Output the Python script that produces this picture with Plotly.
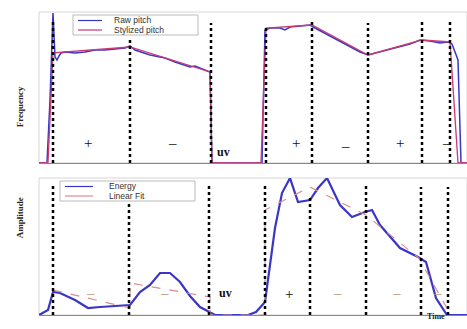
import plotly.graph_objects as go

# ---------------- data (time in frames, frequency in Hz-like units, amplitude arbitrary) ----------------
raw_t = [0, 8, 11, 14, 16, 18, 20, 22, 26, 36, 46, 56, 66, 76, 86, 91, 96, 111, 126, 136, 146, 151,
         156, 161, 166, 171, 173, 223, 226, 231, 241, 246, 251, 261, 271, 276, 291, 306, 321, 329,
         341, 356, 371, 381, 391, 401, 409, 413, 419, 422, 428]
raw_f = [0, 0, 126, 300, 212, 206, 214, 220, 222, 220, 222, 226, 226, 228, 230, 234, 226, 216, 210,
         202, 196, 192, 194, 190, 186, 182, 0, 0, 266, 270, 270, 266, 272, 274, 276, 270, 254, 238,
         222, 216, 222, 230, 238, 246, 244, 240, 242, 238, 206, 0, 0]

sty_t = [0, 9, 14, 91, 171, 173, 222, 227, 273, 329, 383, 411, 419, 428]
sty_f = [0, 0, 220, 232, 182, 0, 0, 270, 276, 216, 246, 242, 0, 0]

en_t = [0, 9, 14, 21, 36, 49, 61, 91, 101, 111, 121, 131, 141, 151, 161, 171, 176, 209, 217, 226,
        236, 243, 251, 259, 271, 279, 288, 301, 313, 326, 333, 341, 361, 379, 387, 397, 408, 428]
en_a = [0, 5, 23, 22, 15, 7, 8, 10, 23, 30, 42, 42, 33, 19, 8, 3, 0, 0, 3, 13, 87, 122, 137, 113,
        115, 127, 137, 110, 98, 103, 105, 90, 67, 58, 53, 17, 0, 0]

fit_t = [14, 91, 91, 171, 171, 226, 226, 271, 271, 327, 327, 382, 382, 409]
fit_a = [25, 7, 32, 18, 0, 0, 105, 128, 128, 100, 100, 55, 53, 5]

bound_top = [14, 91, 172, 227, 273, 329, 383, 411]
bound_top_h = [282, 250, 280, 276, 282, 280, 286, 282]
bound_bot = [14, 90, 170, 226, 271, 327, 382, 409]
bound_bot_h = [132, 113, 132, 132, 118, 130, 128, 128]

top_labels = ["+", "\u2013", "uv", "+", "\u2013", "+", "\u2013"]
top_lab_t = [49, 133, 184, 257, 306, 361, 407]
top_lab_f = [40, 40, 22, 40, 34, 40, 40]
bot_labels = ["\u2013", "\u2013", "uv", "+", "\u2013", "\u2013", "\u2013"]
bot_lab_t = [51, 125, 186, 250, 298, 357, 398]
bot_lab_a = [22, 22, 22, 21, 22, 22, 22]

# ---------------- figure ----------------
fig = go.Figure()

BLUE = "#3a36c8"
PINK = "#cc3a72"
FIT = "#d98f8f"

traces = [
    dict(x=raw_t, y=raw_f, name="Raw pitch", color=BLUE, width=1.5, dash="solid", ax=("x", "y"), leg="top"),
    dict(x=sty_t, y=sty_f, name="Stylized pitch", color=PINK, width=1.3, dash="solid", ax=("x", "y"), leg="top"),
    dict(x=en_t, y=en_a, name="Energy", color=BLUE, width=2.2, dash="solid", ax=("x2", "y2"), leg="bot"),
    dict(x=fit_t, y=fit_a, name="Linear Fit", color=FIT, width=1.2, dash="dash", ax=("x2", "y2"), leg="bot"),
]
for tr in traces:
    fig.add_trace(go.Scatter(x=tr["x"], y=tr["y"], mode="lines", name=tr["name"],
                             line=dict(color=tr["color"], width=tr["width"], dash=tr["dash"]),
                             xaxis=tr["ax"][0], yaxis=tr["ax"][1], showlegend=False))

shapes = []
for t, h in zip(bound_top, bound_top_h):
    shapes.append(dict(type="line", xref="x", yref="y", x0=t, x1=t, y0=0, y1=h,
                       line=dict(color="black", width=2.5, dash="dot")))
for t, h in zip(bound_bot, bound_bot_h):
    shapes.append(dict(type="line", xref="x2", yref="y2", x0=t, x1=t, y0=0, y1=h,
                       line=dict(color="black", width=2.5, dash="dot")))
# light frames
for xr, yr in (("x", "y"), ("x2", "y2")):
    shapes.append(dict(type="rect", xref=xr + " domain", yref=yr + " domain", x0=0, x1=1, y0=0, y1=1,
                       line=dict(color="#d6d6d6", width=1), layer="below"))

annotations = []
for s, t, v in zip(top_labels, top_lab_t, top_lab_f):
    annotations.append(dict(x=t, y=v, xref="x", yref="y", text="<b>uv</b>" if s == "uv" else s,
                            showarrow=False,
                            font=dict(family="Liberation Serif", size=15 if s != "uv" else 12, color="#111")))
for s, t, v in zip(bot_labels, bot_lab_t, bot_lab_a):
    annotations.append(dict(x=t, y=v, xref="x2", yref="y2", text="<b>uv</b>" if s == "uv" else s,
                            showarrow=False,
                            font=dict(family="Liberation Serif", size=15 if s != "uv" else 12,
                                      color="#111" if s != "\u2013" else "#b09a80")))
annotations.append(dict(x=0.0, xref="paper", xshift=-26, y=0.76, yref="paper", text="<b>Frequency</b>",
                        textangle=-90, showarrow=False,
                        font=dict(family="Liberation Serif", size=9, color="#222")))
annotations.append(dict(x=0.0, xref="paper", xshift=-26, y=0.245, yref="paper", text="<b>Amplitude</b>",
                        textangle=-90, showarrow=False,
                        font=dict(family="Liberation Serif", size=9, color="#222")))
annotations.append(dict(x=1.0, xref="paper", xshift=-20, y=0, yref="paper", yshift=-8, text="<b>Time</b>",
                        showarrow=False, font=dict(family="Liberation Serif", size=8, color="#222")))

# ---- compact hand-drawn legends (paper coordinates) ----
L, T, PW, PH = 39, 12, 428, 303
def px(xp):
    return (xp - L) / PW
def py(yp):
    return (T + PH - yp) / PH

legend_boxes = {"top": (73, 15, 198, 35), "bot": (60, 181, 195, 201)}
legend_sw = {"top": (78, 102, 112), "bot": (65, 93, 107)}
for key, (x0, y0, x1, y1) in legend_boxes.items():
    shapes.append(dict(type="rect", xref="paper", yref="paper", x0=px(x0), x1=px(x1), y0=py(y0), y1=py(y1),
                       line=dict(color="#bbbbbb", width=1), fillcolor="white", layer="above"))
    items = [tr for tr in traces if tr["leg"] == key]
    sx0, sx1, tx = legend_sw[key]
    for i, tr in enumerate(items):
        yrow = y0 + 5.5 + i * 9.5
        shapes.append(dict(type="line", xref="paper", yref="paper", x0=px(sx0), x1=px(sx1),
                           y0=py(yrow), y1=py(yrow), line=dict(color=tr["color"], width=1.2), layer="above"))
        annotations.append(dict(x=px(tx), y=py(yrow), xref="paper", yref="paper", xanchor="left",
                                yanchor="middle", text=tr["name"], showarrow=False,
                                font=dict(family="Liberation Sans", size=8.5, color="#333")))

axis_common = dict(showgrid=False, zeroline=False, showticklabels=False, ticks="")

fig.update_layout(
    width=467, height=329,
    margin=dict(l=L, r=0, t=T, b=329 - T - PH),
    paper_bgcolor="white", plot_bgcolor="white",
    showlegend=False,
    xaxis=dict(domain=[0, 1], range=[0, 428], anchor="y", **axis_common),
    yaxis=dict(domain=[0.502, 1], range=[0, 302], anchor="x", **axis_common),
    xaxis2=dict(domain=[0, 1], range=[0, 428], anchor="y2", **axis_common),
    yaxis2=dict(domain=[0, 0.452], range=[0, 137], anchor="x2", **axis_common),
    shapes=shapes,
    annotations=annotations,
)
fig.update_xaxes(showline=True, linecolor="#888", linewidth=1)
fig.update_yaxes(showline=False)

fig.write_html("out.html")
